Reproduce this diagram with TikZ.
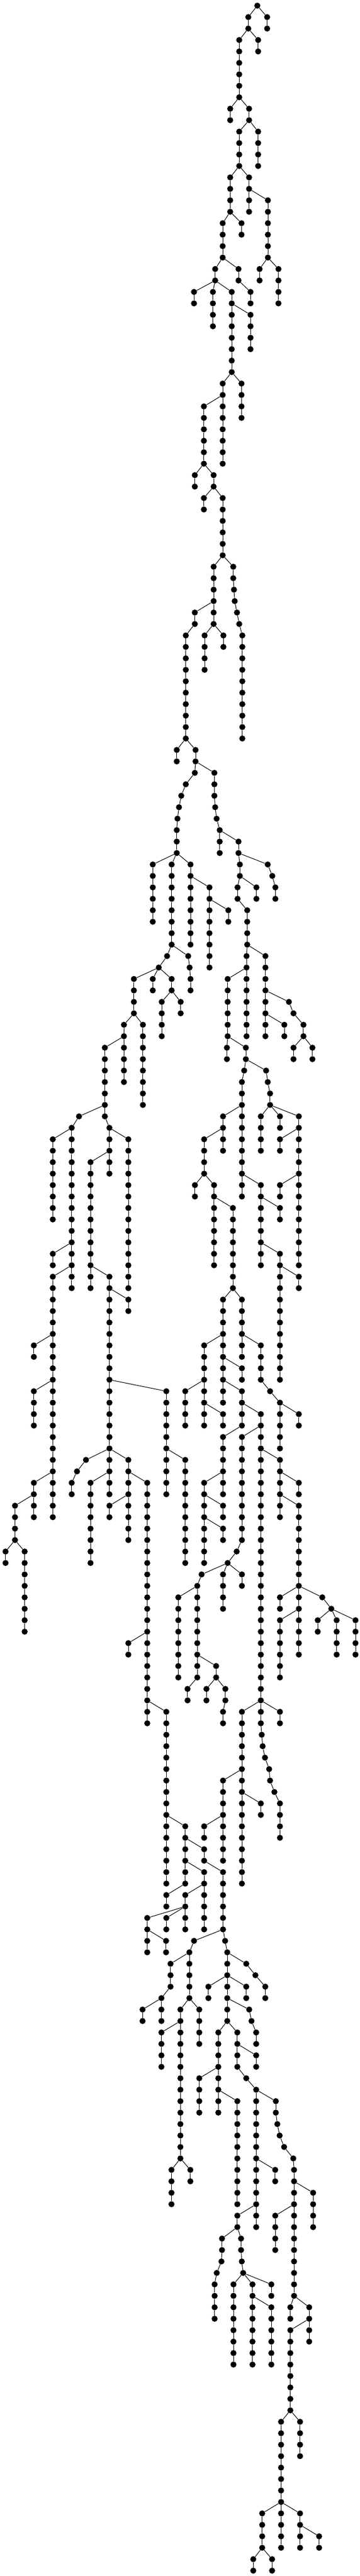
\documentclass[tikz,border=0pt]{standalone}
\usepackage{tikz}

\begin{document}
\begin{tikzpicture}[x=0.1pt,y=-20.27pt]
\tikzstyle{vertex}=[circle,fill=black,minimum size=10.7pt,inner sep=0pt]
\useasboundingbox (0,-0.4933) rectangle (6360,224.47);
\node[vertex] (v0-4553) at (4553,0) {};
% parent column / column / first level / number of levels
\foreach \up/\col/\lev/\num in {
	4553/4393/1/2, 4553/4727/1/2, 4393/4233/3/6, 4393/4567/3/2,
	4233/4073/9/2, 4233/4407/9/2, 4407/4233/11/4, 4407/4567/11/4,
	4233/4073/15/4, 4233/4407/15/4, 4407/4740/17/6,
	4073/3940/19/4, 4073/4273/19/2,
	3940/3807/23/2, 3940/4220/23/2, 4740/4593/23/2, 4740/4927/23/4,
	3807/3433/25/2, 3807/3767/25/4, 3807/4100/25/8, 4220/4433/25/2,
	4100/4433/27/4, 4100/3940/33/8, 4100/4273/33/4, 3940/3607/35/6,
	3607/3447/41/2, 3607/3780/41/2, 3780/3607/43/2, 3780/3940/43/6,
	3940/3780/49/6, 3940/4127/49/2, 4127/4140/51/1, 4140/4153/52/1,
	4153/4193/53/1, 3780/3447/53/2, 4193/4233/54/1,
	4233/4287/55/10, 3447/3287/55/10, 3780/3620/55/4, 3780/3953/55/2,
	3287/3127/65/2, 3287/3460/65/2, 3460/3447/67/1, 3460/3793/67/3,
	3447/3287/68/1, 3287/3207/69/1, 3207/3167/70/1, 3793/3807/70/1,
	3167/3140/71/1, 3807/3833/71/1, 3140/3127/72/3, 3833/3887/72/3,
	3887/4220/73/2,
	3127/2703/75/6, 3127/3037/75/8, 3127/3371/75/8, 4220/4244/75/2, 4220/4737/75/1,
	4737/4818/76/1,
	3371/3706/77/8, 4244/4203/77/2, 4244/4537/77/2, 4818/4872/77/2,
	3706/4040/79/2, 4203/4374/79/4,
	3037/2956/83/1, 3037/3330/83/1, 4374/4362/83/8, 4374/4696/83/8,
	2956/2809/84/1, 3330/3355/84/1,
	2809/2369/85/4, 2809/2703/85/2, 2809/3037/85/2, 3355/3371/85/2, 4362/4028/85/6,
	3037/2862/87/4, 3037/3196/87/2, 4696/5112/87/1, 5112/5193/88/1,
	2369/2193/89/6, 2369/2528/89/8, 4696/5031/89/2, 5193/5369/89/2,
	2193/1855/91/7, 4028/4015/91/2, 4028/4350/91/2, 5369/5193/91/2, 5369/5528/91/2,
	4350/4321/93/1, 4350/4708/93/1, 4321/4280/94/11, 4708/4737/94/1, 4737/4778/95/2,
	1855/1398/97/1, 4280/3946/97/4, 4778/4615/97/4, 4778/4953/97/2, 4778/5287/97/14,
	1398/1268/98/1, 1855/1936/98/5,
	1268/934/99/8, 1268/1268/99/14, 1936/2271/99/14, 3946/3612/99/4, 5287/4953/99/2,
	1936/1602/101/12,
	3612/3449/103/2, 3612/3787/103/8, 4280/4615/103/8, 5287/4953/103/2,
	3787/4121/105/8, 4615/4953/105/2,
	1268/934/109/2, 4615/4953/109/12,
	1268/934/111/22, 1602/1936/111/16, 4953/5287/111/2,
	1936/2271/113/2, 4121/3946/113/10, 4121/4280/113/6,
	934/599/117/2, 3946/3612/117/8, 4280/4615/117/4, 3946/4280/119/2,
	934/599/121/4, 1936/2943/121/10, 3612/3278/121/4, 3946/4280/121/4, 4615/4778/121/1,
	4778/4953/122/5,
	3612/3946/123/2, 4280/4615/123/28, 4953/5287/123/2,
	4280/3946/125/6, 4615/4280/125/10,
	1936/1521/127/1, 1936/1936/127/4, 1936/2271/127/8, 2943/3278/127/10, 4615/4953/127/6,
	1521/1362/128/1,
	934/599/129/4, 1362/1268/129/2, 1936/1602/129/8, 2271/2605/129/22, 3946/3612/129/8, 4953/5287/129/2,
	599/265/131/4, 2271/1936/131/2, 3612/3946/131/2, 4953/5287/131/14,
	3612/3946/133/2,
	265/98/135/2, 265/436/135/8, 4280/4187/135/1, 4187/4028/136/1,
	4028/3567/137/1, 4028/3946/137/4, 4028/4280/137/2, 3567/3490/138/9,
	3490/3155/139/8, 5287/4953/139/2, 5287/5703/139/1, 5703/5862/140/1,
	5287/4953/141/6, 5862/5622/141/2, 5862/5956/141/4, 5862/6290/141/4,
	2605/2271/143/2, 3490/3824/145/2,
	3490/3318/147/2, 3824/3653/147/2, 3824/3987/147/2,
	2605/2943/149/16, 3987/3946/149/2, 4615/4280/149/16, 4615/4953/149/2,
	4615/4631/151/1, 4631/4647/152/1, 4647/4688/153/1, 4688/4762/154/1,
	4762/4778/155/1, 4280/3946/155/8, 4778/4855/156/1,
	4855/4953/157/4, 4280/4615/157/2,
	2943/3278/159/6, 3946/3612/159/2, 3278/3612/161/2,
	3278/3612/163/6, 3612/3946/163/6, 3278/2943/165/2, 3612/3278/165/4,
	3278/2605/167/2, 3278/2943/167/2,
	2605/2605/169/2, 2605/2938/169/2, 3946/3433/169/1, 3946/3983/169/1,
	3433/3351/170/5, 3983/4021/170/7, 3351/3017/171/3, 4021/4357/171/1, 4357/4519/172/1,
	4519/4694/173/2, 4021/3687/173/2, 4021/4357/173/2, 3017/2856/174/3,
	2856/2522/175/2, 3351/3192/175/14, 3351/3526/175/4, 4021/4409/175/1, 4409/4450/176/1,
	3192/2856/177/4, 4450/4533/177/2, 4021/3863/177/8, 4021/4199/177/4,
	4199/4533/179/2, 3863/3526/181/4, 4199/4357/181/1, 4357/4533/182/13,
	3863/4199/183/10, 4533/4880/183/2, 4880/4907/185/1, 4907/4948/186/1,
	4948/5027/187/1, 5027/5189/188/1,
	3192/3034/189/4, 3192/3368/189/2, 4533/4869/189/2, 5189/5203/189/12,
	5203/5540/191/4, 4533/4199/193/2, 5203/4870/193/4,
	4199/3928/195/2, 4199/4265/195/2, 3928/3918/197/1, 4265/4278/197/1,
	3918/3835/198/1, 4278/4302/198/1,
	3835/3797/199/4, 4302/4131/199/8, 4302/4467/199/8, 4302/4801/199/2,
	4467/4801/201/6, 5203/5137/201/2, 5203/5471/201/4, 5471/5137/203/8,
	5137/4973/211/8, 5137/5309/211/4,
	4973/4639/219/4, 4973/4973/219/4, 4973/5309/219/4, 5309/5646/221/2,
	4639/4481/223/2, 4639/4814/223/2}
{
	\foreach \i in {1,...,\num} {
		\pgfmathtruncatemacro{\cur}{\lev+\i-1}
		\pgfmathtruncatemacro{\prev}{\cur-1}
		\ifnum\i=1 \edef\from{v\prev-\up}\else \edef\from{v\prev-\col}\fi
		\node[vertex] (v\cur-\col) at (\col,\cur) {};
		\draw[line width=1pt] (\from) -- (v\cur-\col);
	}
}
\end{tikzpicture}
\end{document}
